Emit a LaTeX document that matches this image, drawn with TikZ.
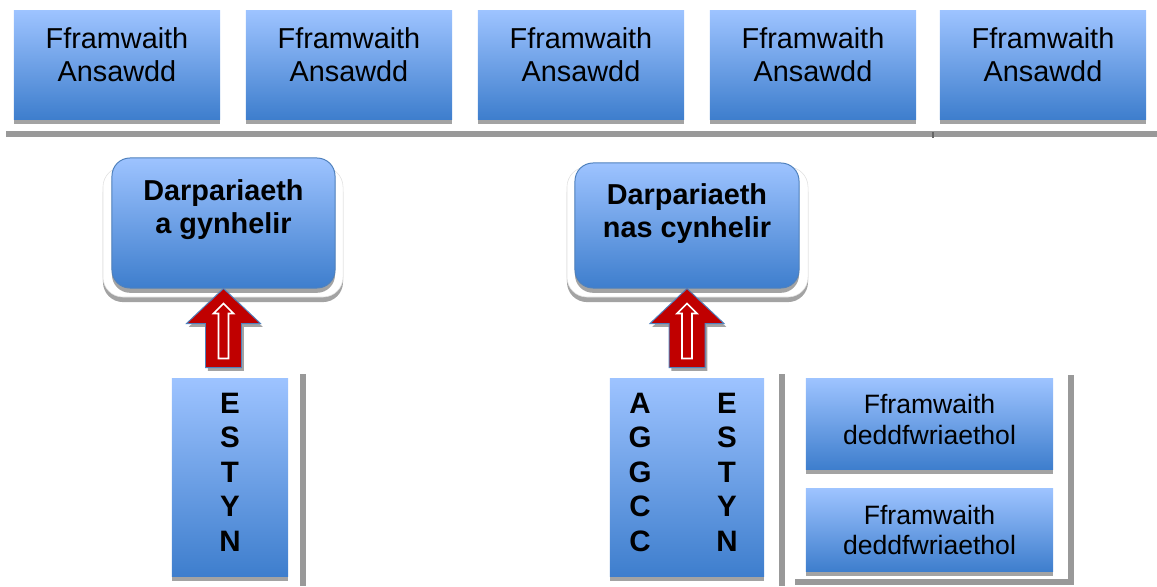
\documentclass[tikz,border=0pt]{standalone}
\usepackage{fontspec}
\setmainfont{Liberation Sans}
\usetikzlibrary{positioning}
\usetikzlibrary{shadows}
\usetikzlibrary{calc}
\usepackage{xcolor}

\definecolor{boxtop}{RGB}{157,195,255}
\definecolor{boxbottom}{RGB}{62,126,205}
\definecolor{boxborder}{RGB}{79,129,189}
\definecolor{arrowred}{RGB}{192,0,0}
\definecolor{rulegray}{RGB}{153,153,153}
\definecolor{shadowgray}{RGB}{163,163,163}

\tikzset{
  every box/.style={top color=boxtop, bottom color=boxbottom, inner sep=0pt,
    drop shadow={shadow xshift=0pt, shadow yshift=-3.4pt, fill=shadowgray, opacity=1}},
  quality box/.style={every box, minimum width=5.15cm, minimum height=2.7cm},
  law box/.style={every box, minimum width=6.175cm},
  frame box/.style={fill=white, draw=black!12, rounded corners=0.5cm, inner sep=0pt,
    drop shadow={shadow xshift=0pt, shadow yshift=-3.6pt, fill=shadowgray, opacity=1}},
  provision box/.style={every box, draw=boxborder, line width=0.7pt, rounded corners=0.45cm},
  plain text/.style={align=center, font=\fontsize{20.5}{23.5}\selectfont},
  bold text/.style={align=center, font=\fontsize{20.5}{23.5}\selectfont\bfseries},
  law text/.style={align=center, font=\fontsize{18.9}{22}\selectfont},
  letter/.style={font=\fontsize{21}{24}\selectfont\bfseries, inner sep=0pt},
  block arrow/.style={fill=arrowred, draw=boxborder, line width=0.7pt,
    drop shadow={shadow xshift=1.6pt, shadow yshift=-2.4pt, fill=shadowgray, opacity=1}},
  inner arrow/.style={fill=arrowred, draw=white, line width=1.1pt},
  rule line/.style={draw=rulegray, line width=3.6pt}
}

\begin{document}
\begin{tikzpicture}[x=0.025cm, y=-0.025cm]
\useasboundingbox (0,0) rectangle (1157,586);

% Quality frameworks along the top
\foreach \x [count=\i] in {117,349,581,813,1043}
  \node [quality box, label={[plain text, yshift=7pt]center:{Fframwaith\\Ansawdd}}] (quality-\i) at (\x,65) {};

% Rule under the top row
\draw [rule line] (6,134) -- (1157,134);
\draw [black!60, line width=0.8pt] (933,132) -- (933,137.5);

% Provision boxes
\node [frame box, minimum width=6cm, minimum height=3.25cm] (provided-frame) at (223,232) {};
\node [provision box, minimum width=5.575cm, minimum height=3.25cm,
  label={[bold text, yshift=9.6pt]center:{Darpariaeth\\a gynhelir}}] (provided) at (223.5,223) {};

\node [frame box, minimum width=6.025cm, minimum height=3.25cm] (nonprovided-frame) at (687.5,232) {};
\node [provision box, minimum width=5.6cm, minimum height=3.125cm,
  label={[bold text, yshift=8.5pt]center:{Darpariaeth\\nas cynhelir}}] (nonprovided) at (687,225.5) {};

% Inspectorate columns
\node [every box, minimum width=2.9cm, minimum height=4.925cm] (estyn-1) at (230,477.5) {};
\node [every box, minimum width=3.85cm, minimum height=4.925cm] (estyn-2) at (687,477.5) {};

\foreach \l [count=\k] in {E,S,T,Y,N}
  \node [letter] (estyn-1-\k) at (230,368.5+34.5*\k) {\l};

\foreach \a/\e [count=\k] in {A/E,G/S,G/T,C/Y,C/N} {
  \node [letter] (aggcc-\k) at (640,368.5+34.5*\k) {\a};
  \node [letter] (estyn-2-\k) at (727,368.5+34.5*\k) {\e};
}

% Legislative frameworks
\node [law box, minimum height=2.25cm, label={[law text, yshift=3.2pt]center:{Fframwaith\\deddfwriaethol}}] (law-1) at (929.5,424) {};
\node [law box, minimum height=2.05cm, label={[law text]center:{Fframwaith\\deddfwriaethol}}] (law-2) at (929.5,530) {};

% Separating rules
\draw [rule line] (303,374) -- (303,586);
\draw [rule line] (782,374) -- (782,586);
\draw [rule line] (1071,375) -- (1071,582) -- (795,582);

% Block arrows up into the provision boxes
\foreach \b in {provided, nonprovided} {
  \draw [block arrow] (\b.south) -- ++(37,35) -- ++(-19,0) -- ++(0,44) -- ++(-36,0)
    -- ++(0,-44) -- ++(-19,0) -- cycle;
  \draw [inner arrow] ($(\b.south)+(0,15)$) -- ++(10,10) -- ++(-5,0) -- ++(0,45) -- ++(-10,0)
    -- ++(0,-45) -- ++(-5,0) -- cycle;
}

\end{tikzpicture}
\end{document}
